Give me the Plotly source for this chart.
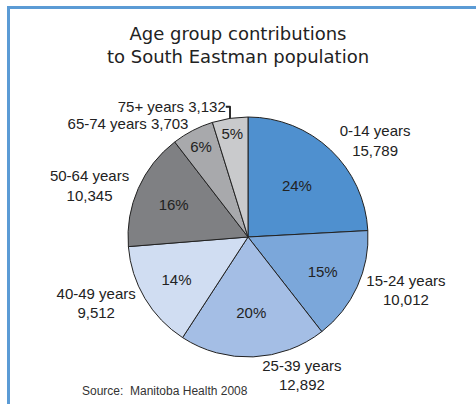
import plotly.graph_objects as go

# ---- data ----
age_groups = ["0-14 years", "15-24 years", "25-39 years", "40-49 years",
              "50-64 years", "65-74 years", "75+ years"]
population = [15789, 10012, 12892, 9512, 10345, 3703, 3132]
pct_labels = ["24%", "15%", "20%", "14%", "16%", "6%", "5%"]
outside_labels = ["0-14 years<br>15,789", "15-24 years<br>10,012", "25-39 years<br>12,892",
                  "40-49 years<br>9,512", "50-64 years<br>10,345", "65-74 years 3,703",
                  "75+ years 3,132"]
colors = ["#4f90cf", "#7ba7da", "#a4bee5", "#d0ddf2", "#7f8083", "#a8a9ac", "#c9cacc"]

W, H = 476, 404
cx, cy, r = 248, 237, 120
dom_x = [(cx - r) / W, (cx + r) / W]
dom_y = [1 - (cy + r) / H, 1 - (cy - r) / H]

fig = go.Figure()
# slices with inside percentages
fig.add_trace(go.Pie(
    labels=age_groups, values=population, sort=False, direction="clockwise", rotation=0,
    marker=dict(colors=colors, line=dict(color="#222222", width=1)),
    text=pct_labels, texttemplate="%{text}", textposition="inside",
    insidetextorientation="horizontal",
    textfont=dict(family="Liberation Sans, Arial, sans-serif", size=15, color="#222222"),
    domain=dict(x=dom_x, y=dom_y), showlegend=False, hoverinfo="label+value",
    automargin=False,
))
# transparent overlay carrying the outside labels
fig.add_trace(go.Pie(
    labels=age_groups, values=population, sort=False, direction="clockwise", rotation=0,
    marker=dict(colors=["rgba(0,0,0,0)"] * len(age_groups), line=dict(width=0)),
    text=outside_labels, texttemplate="%{text}", textposition="outside",
    outsidetextfont=dict(family="Liberation Sans, Arial, sans-serif", size=15, color="#222222"),
    domain=dict(x=dom_x, y=dom_y), showlegend=False, hoverinfo="skip",
    automargin=False,
))

fig.update_layout(
    width=W, height=H,
    margin=dict(l=0, r=0, t=0, b=0),
    paper_bgcolor="white", plot_bgcolor="white",
    title=dict(text="Age group contributions<br>to South Eastman population",
               x=0.5, xanchor="center", y=1 - 40 / H, yanchor="top", yref="container",
               font=dict(family="DejaVu Sans, Verdana, sans-serif", size=18, color="#222222")),
    annotations=[dict(text="Source:  Manitoba Health 2008", xref="paper", yref="paper",
                      x=80 / W, y=1 - 391 / H, xanchor="left", yanchor="middle",
                      showarrow=False,
                      font=dict(family="Liberation Sans, Arial, sans-serif", size=12, color="#333333"))],
    shapes=[
        dict(type="line", xref="paper", yref="paper", x0=7 / W, x1=1.0, y0=1 - 7.5 / H, y1=1 - 7.5 / H,
             line=dict(color="#5b9bd5", width=3)),
        dict(type="line", xref="paper", yref="paper", x0=8.5 / W, x1=8.5 / W, y0=1 - 6 / H, y1=0,
             line=dict(color="#5b9bd5", width=3)),
    ],
)

fig.write_html("out.html", config={"displayModeBar": False},
               post_script="document.body.style.margin='0';document.body.style.overflow='hidden';")
